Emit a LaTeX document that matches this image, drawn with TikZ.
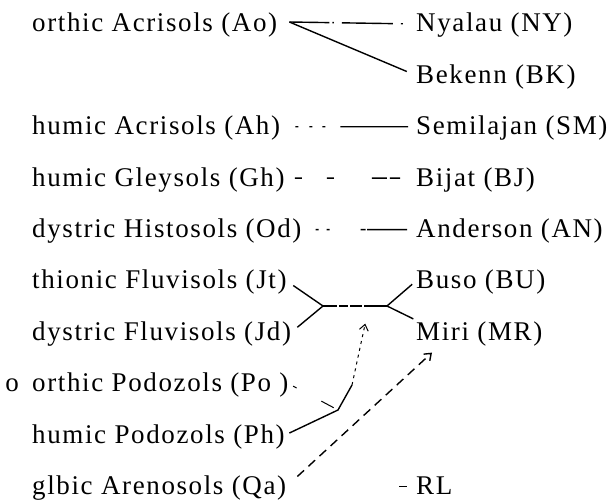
\documentclass[tikz,border=0pt]{standalone}
\usepackage{fontspec}
\setmainfont{Liberation Serif}[LetterSpace=6]
\usepackage{tikz}
\usetikzlibrary{arrows.meta, positioning}

\begin{document}
\begin{tikzpicture}[
    x=1pt, y=-1pt,
    node distance=51.4pt,
    soil/.style={inner sep=0pt, text height=20pt, text depth=4pt, anchor=base west, font=\fontsize{27}{32}\selectfont},
    site/.style={soil},
    link/.style={line width=1.4pt},
    faint/.style={line width=1pt},
    arrow/.style={-{Straight Barb[length=6pt,width=9pt]}}
]
\useasboundingbox (0,0) rectangle (608,502);

% Soils
\node [soil] (ao) at (32,32) {orthic Acrisols (Ao)};
\node [soil, below=102.8pt of ao.base west, anchor=base west] (ah) {humic Acrisols (Ah)};
\node [soil, below=of ah.base west, anchor=base west] (gh) {humic Gleysols (Gh)};
\node [soil, below=of gh.base west, anchor=base west] (od) {dystric Histosols (Od)};
\node [soil, below=of od.base west, anchor=base west] (jt) {thionic Fluvisols (Jt)};
\node [soil, below=of jt.base west, anchor=base west] (jd) {dystric Fluvisols (Jd)};
\node [soil, below=of jd.base west, anchor=base west] (po) {orthic Podozols (Po )};
\node [soil, left=13pt of po.base west, anchor=base east] (pomark) {o};
\node [soil, below=of po.base west, anchor=base west] (ph) {humic Podozols (Ph)};
\node [soil, below=of ph.base west, anchor=base west] (qa) {glbic Arenosols (Qa)};

% Sites
\node [site] (ny) at (416,32) {Nyalau (NY)};
\node [site, below=of ny.base west, anchor=base west] (bk) {Bekenn (BK)};
\node [site, below=of bk.base west, anchor=base west] (sm) {Semilajan (SM)};
\node [site, below=of sm.base west, anchor=base west] (bj) {Bijat (BJ)};
\node [site, below=of bj.base west, anchor=base west] (an) {Anderson (AN)};
\node [site, below=of an.base west, anchor=base west] (bu) {Buso (BU)};
\node [site, below=of bu.base west, anchor=base west] (mr) {Miri (MR)};
\node [site, below=154.2pt of mr.base west, anchor=base west] (rl) {RL};

% Junctions
\coordinate (aofork) at ([xshift=12pt,yshift=2pt]ao.east);
\coordinate (jleft) at (323,306);
\coordinate (jright) at (387,306);
\coordinate (jmid) at (369,306);
\coordinate (phbend) at (338,410);
\coordinate (phrise) at (352,385);
\coordinate (mrfoot) at ([xshift=16pt,yshift=-8pt]mr.south west);
\coordinate [left=17pt of rl.west] (rltail);

% Links
\draw [link, dash pattern=on 40pt off 3pt on 1.5pt off 8pt on 51pt off 8pt on 2pt off 20pt] (aofork) -- (ny.west);
\draw [link, shorten >=10pt] (aofork) -- (bk.west);
\draw [link, dash pattern=on 3pt off 11pt on 3pt off 10pt on 3pt off 15pt on 90pt, shorten <=15pt, shorten >=8pt] (ah.east) -- (sm.west);
\draw [link, dash pattern=on 7pt off 25pt on 7pt off 38pt on 15pt off 3pt on 12pt off 30pt, shorten <=10pt, shorten >=16pt] (gh.east) -- (bj.west);
\draw [link, dash pattern=on 3pt off 8pt on 3pt off 31pt on 5pt off 1.5pt on 60pt, shorten <=14pt, shorten >=9pt] (od.east) -- (an.west);
\draw [link, shorten <=8pt] (jt.east) -- (jleft);
\draw [link, shorten <=8pt] (jd.east) -- (jleft);
\draw [link, dash pattern=on 14pt off 2pt on 9pt off 2pt on 12pt off 2pt on 30pt] (jleft) -- (jright);
\draw [link, shorten >=5pt] (jright) -- (bu.west);
\draw [link, shorten >=3pt] (jright) -- (mr.north west);

% Arrows
\draw [faint, dash pattern=on 4pt off 28pt on 14pt off 20pt, shorten <=5pt] (po.east) -- (phbend);
\draw [link, shorten <=5pt] (ph.east) -- (phbend) -- (phrise);
\draw [faint, dash pattern=on 3pt off 4pt, arrow, shorten >=18pt] (phrise) -- (jmid);
\draw [link, dash pattern=on 9pt off 6pt, arrow, shorten <=15pt] (qa.east) -- (mrfoot);
\draw [link, shorten >=9pt] (rltail) -- (rl.west);

\end{tikzpicture}
\end{document}
